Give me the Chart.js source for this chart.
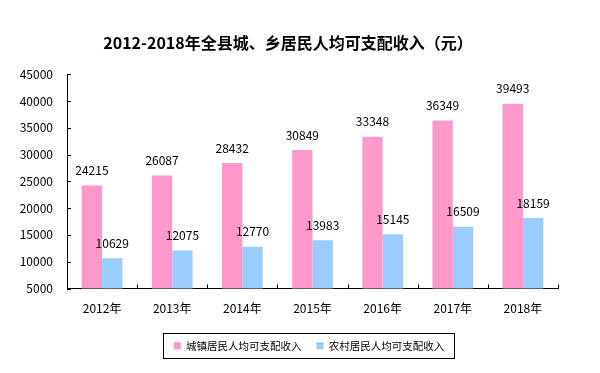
<!DOCTYPE html>
<html>
<head>
<meta charset="utf-8">
<script src="https://cdn.jsdelivr.net/npm/chart.js@4"></script>
<style>
  body { margin: 0; background: #fff; }
  #wrap { width: 600px; height: 373px; }
</style>
</head>
<body>
<div id="wrap"><canvas id="incomeChart" width="600" height="373"></canvas></div>
<script>
const years = ['2012年', '2013年', '2014年', '2015年', '2016年', '2017年', '2018年'];
const urbanIncome = [24215, 26087, 28432, 30849, 33348, 36349, 39493];
const ruralIncome = [10629, 12075, 12770, 13983, 15145, 16509, 18159];
const yTicks = [5000, 10000, 15000, 20000, 25000, 30000, 35000, 40000, 45000];

const FONT = "'Noto Sans CJK SC', 'Microsoft YaHei', sans-serif";

// value labels above each bar
const valueLabels = {
    id: 'valueLabels',
    afterDatasetsDraw(chart) {
        const ctx = chart.ctx;
        ctx.save();
        ctx.font = `12px ${FONT}`;
        ctx.fillStyle = '#000';
        ctx.textAlign = 'center';
        ctx.textBaseline = 'middle';
        chart.data.datasets.forEach((ds, i) => {
            chart.getDatasetMeta(i).data.forEach((bar, j) => {
                ctx.fillText(ds.data[j], bar.x, bar.y - 15);
            });
        });
        ctx.restore();
    }
};

// nudge title and legend sideways like the original layout
const shiftBoxes = {
    id: 'shiftBoxes',
    afterLayout(chart) {
        chart.titleBlock.left += 9;
        chart.titleBlock.right += 9;
        chart.legend.left += 30;
        chart.legend.right += 30;
    }
};

// inward tick marks on both axes + box around legend
const axisDecor = {
    id: 'axisDecor',
    afterDraw(chart) {
        const ctx = chart.ctx;
        const area = chart.chartArea;
        const y = chart.scales.y;
        ctx.save();
        ctx.strokeStyle = '#000';
        ctx.lineWidth = 1;
        ctx.beginPath();
        y.ticks.forEach((t, i) => {
            const py = Math.round(y.getPixelForTick(i)) + 0.5;
            ctx.moveTo(area.left, py);
            ctx.lineTo(area.left + 4, py);
        });
        for (let i = 0; i <= years.length; i++) {
            const px = Math.round(area.left + (area.right - area.left) * i / years.length) + 0.5;
            ctx.moveTo(px, area.bottom);
            ctx.lineTo(px, area.bottom - 4);
        }
        ctx.stroke();

        const boxes = chart.legend.legendHitBoxes;
        if (boxes.length) {
            const last = boxes[boxes.length - 1];
            const l = boxes[0].left - 11;
            const r = last.left + last.width + 10;
            const cy = boxes[0].top + boxes[0].height / 2;
            ctx.strokeRect(Math.round(l) + 0.5, Math.round(cy - 13) + 0.5, Math.round(r - l), 25);
        }
        ctx.restore();
    }
};

new Chart(document.getElementById('incomeChart'), {
    type: 'bar',
    data: {
        labels: years,
        datasets: [
            {
                label: '城镇居民人均可支配收入',
                data: urbanIncome,
                backgroundColor: '#FF99CC',
                barPercentage: 1,
                categoryPercentage: 0.58
            },
            {
                label: '农村居民人均可支配收入',
                data: ruralIncome,
                backgroundColor: '#99CCFF',
                barPercentage: 1,
                categoryPercentage: 0.58
            }
        ]
    },
    options: {
        responsive: false,
        animation: false,
        layout: { padding: { left: 0, right: 42, top: 0, bottom: 12 } },
        plugins: {
            title: {
                display: true,
                text: '2012-2018年全县城、乡居民人均可支配收入（元）',
                color: '#000',
                font: { family: FONT, size: 16, weight: 'bold', lineHeight: 1.2 },
                padding: { top: 33, bottom: 22 }
            },
            legend: {
                position: 'bottom',
                labels: {
                    color: '#000',
                    font: { family: FONT, size: 10.5 },
                    boxWidth: 7,
                    boxHeight: 7,
                    padding: 15
                }
            },
            tooltip: { enabled: false }
        },
        scales: {
            x: {
                grid: { display: false },
                border: { display: true, color: '#000', width: 1 },
                ticks: { color: '#000', font: { family: FONT, size: 12 }, padding: 5 },
                afterFit(scale) { scale.height = 37; }
            },
            y: {
                min: 5000,
                max: 45000,
                afterBuildTicks(scale) { scale.ticks = yTicks.map(v => ({ value: v })); },
                grid: { display: false },
                border: { display: true, color: '#000', width: 1 },
                ticks: {
                    color: '#000',
                    font: { family: FONT, size: 12 },
                    padding: 6,
                    callback: v => String(v)
                },
                afterFit(scale) { scale.width = 67; }
            }
        }
    },
    plugins: [valueLabels, shiftBoxes, axisDecor]
});
</script>
</body>
</html>
